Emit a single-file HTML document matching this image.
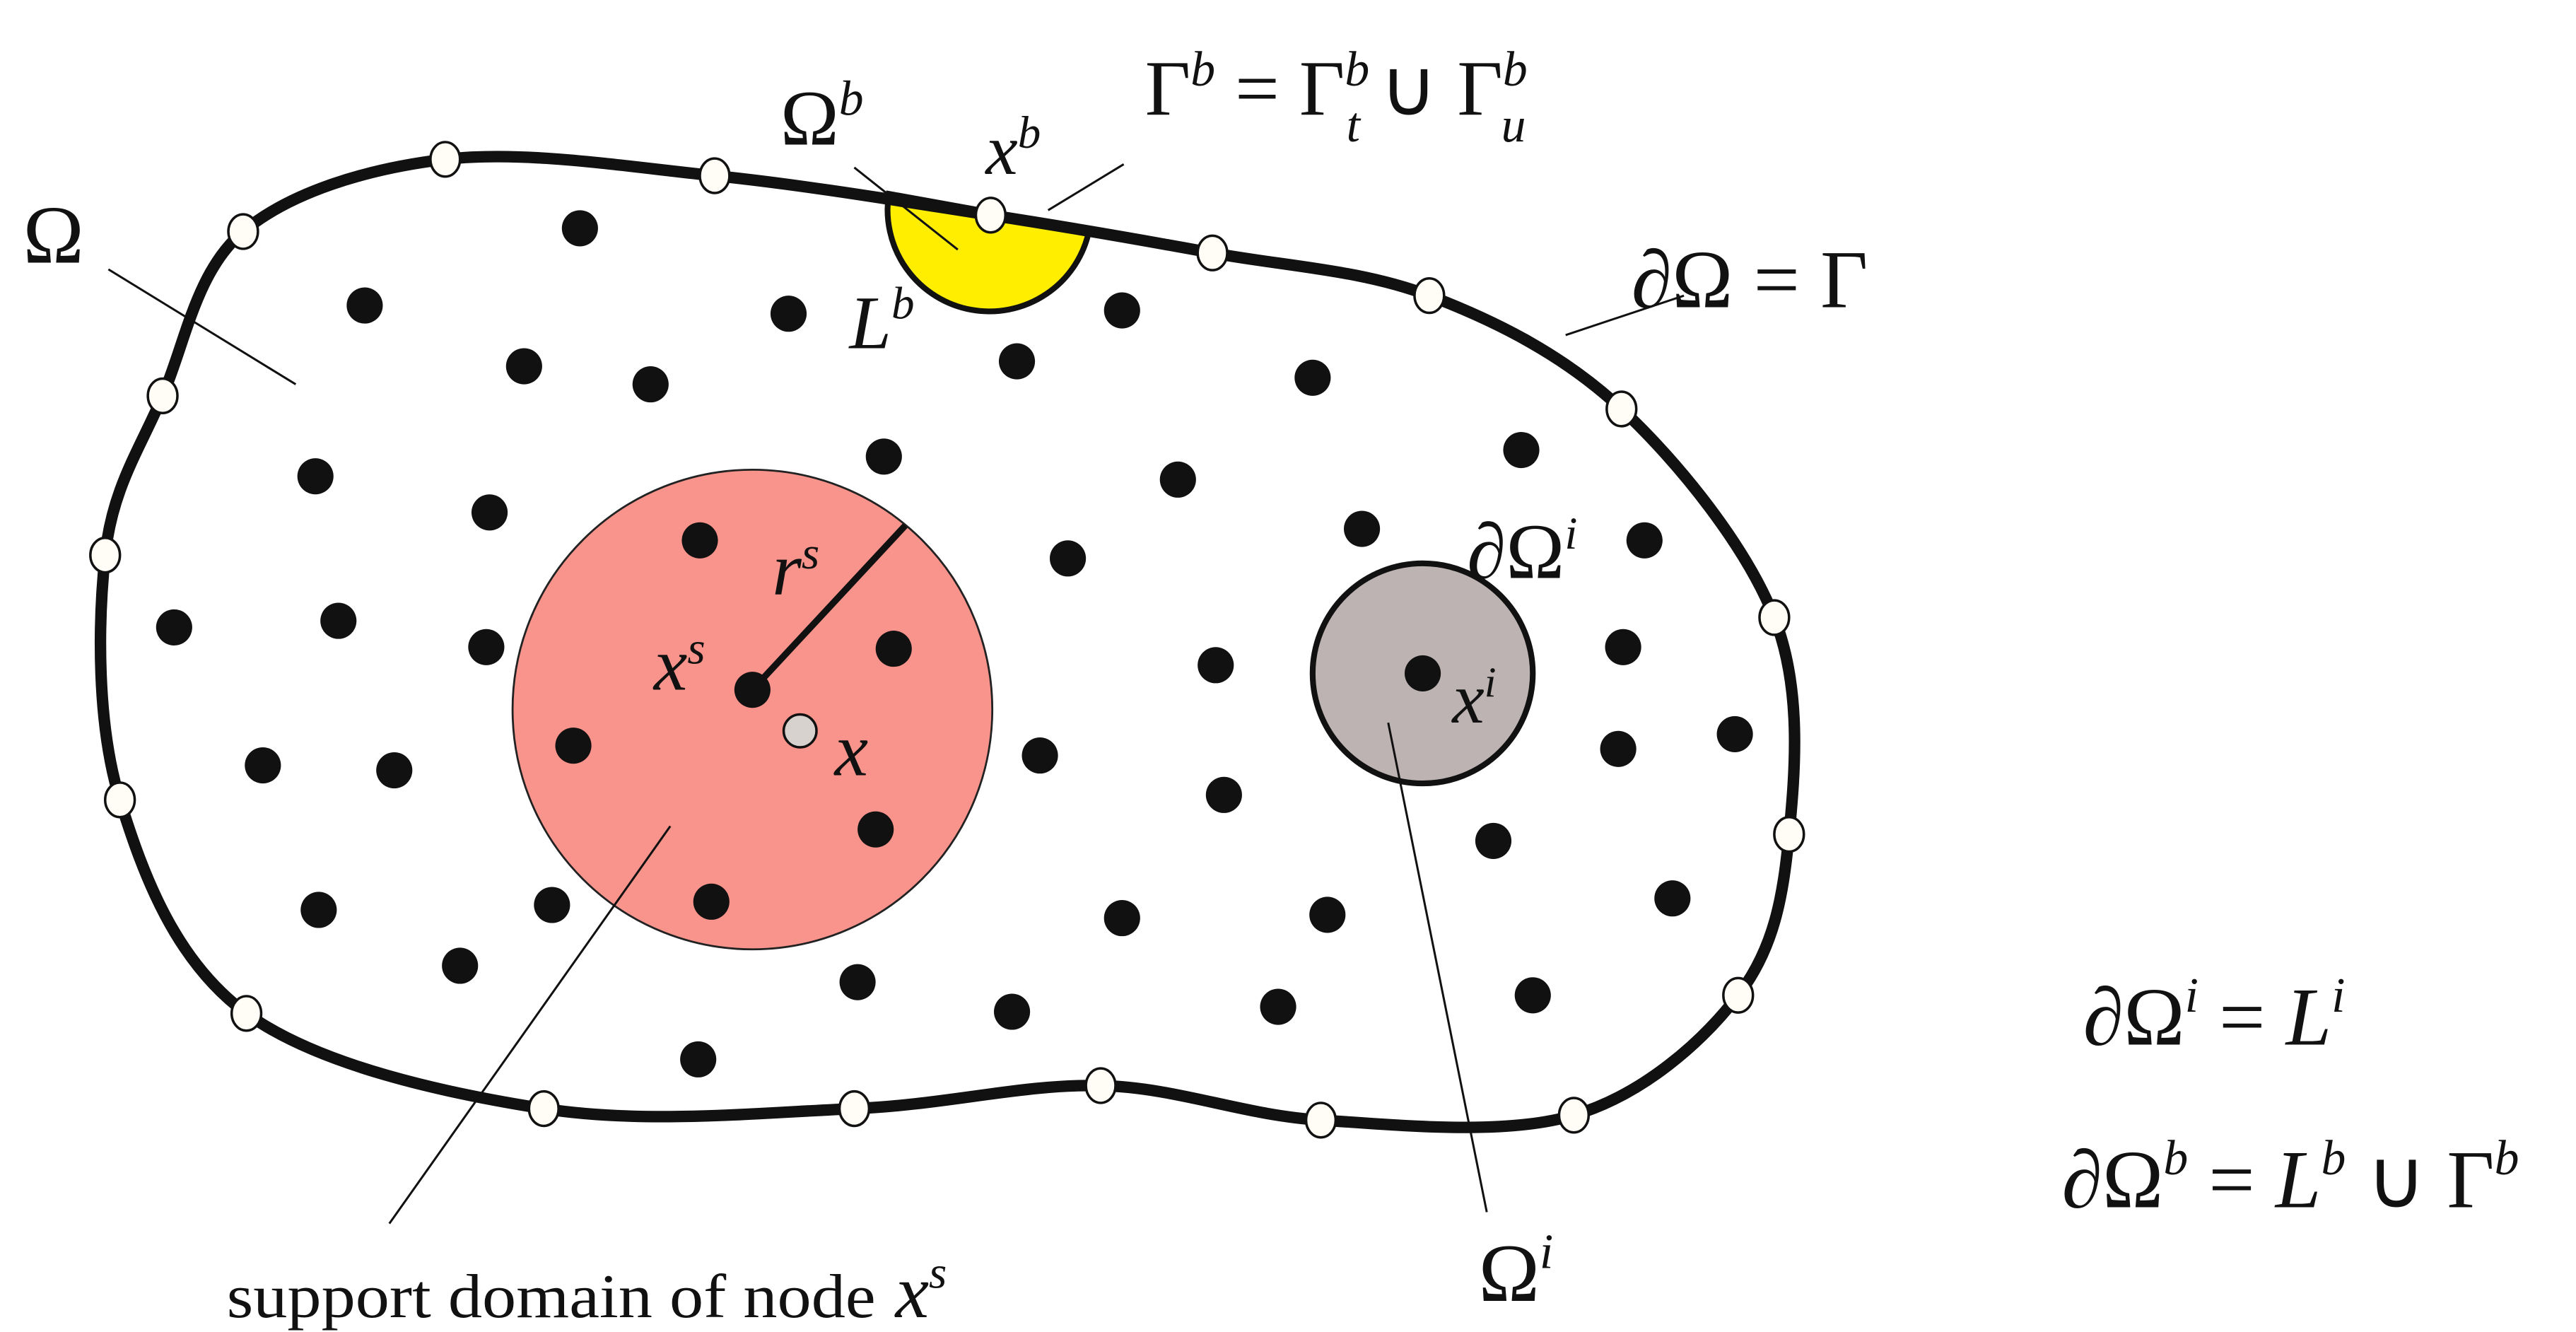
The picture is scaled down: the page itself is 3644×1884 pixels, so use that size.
<!DOCTYPE html>
<html><head><meta charset="utf-8"><style>
html,body{margin:0;padding:0;background:#fff;}
svg{display:block;}
text{font-family:"Liberation Serif",serif;fill:#111;}
.i{font-style:italic;}
</style></head><body>
<svg id="s" width="3644" height="1884" viewBox="0 0 1568 811" preserveAspectRatio="none" xmlns="http://www.w3.org/2000/svg">
<circle cx="458" cy="432" r="146" fill="#f9948c" stroke="#222" stroke-width="1.2"/>
<circle cx="866" cy="410" r="67" fill="#bdb3b2" stroke="#111" stroke-width="3.5"/>
<path d="M541,118 A62,62 0 0 0 663,140 Z" fill="#ffee00" stroke="#111" stroke-width="3.5"/>
<path id="bd" d="" fill="none" stroke="#111" stroke-width="7"/>
<g id="dots" fill="#111"></g>
<g id="open" fill="#fffdf5" stroke="#111" stroke-width="1.5"></g>
<g stroke="#111" stroke-width="1.3">
<line x1="66" y1="164" x2="180" y2="234"/>
<line x1="520" y1="102" x2="583" y2="152"/>
<line x1="684" y1="100" x2="638" y2="128"/>
<line x1="1025" y1="180" x2="953" y2="204"/>
<line x1="845" y1="440" x2="905" y2="738"/>
<line x1="408" y1="503" x2="237" y2="745"/>
</g>
<line x1="458" y1="420" x2="551" y2="320" stroke="#111" stroke-width="4"/>
<circle cx="487" cy="445" r="10" fill="#d8d2cf" stroke="#111" stroke-width="1.5"/>
<text x="14" y="160" font-size="50">Ω</text>
<text x="475" y="88" font-size="48">Ω<tspan class="i" font-size="30" dy="-18">b</tspan></text>
<text x="697" y="70" font-size="48">Γ<tspan class="i" font-size="30" dy="-18">b</tspan><tspan dy="18"> = Γ</tspan><tspan class="i" font-size="30" dy="-18">b</tspan><tspan class="i" font-size="30" dx="-14" dy="34">t</tspan><tspan dy="-16"> ∪ Γ</tspan><tspan class="i" font-size="30" dy="-18">b</tspan><tspan class="i" font-size="30" dx="-16" dy="34">u</tspan></text>
<text x="600" y="106" font-size="44" class="i">x<tspan font-size="28" dy="-16">b</tspan></text>
<text x="517" y="212" font-size="46" class="i">L<tspan font-size="28" dy="-18">b</tspan></text>
<text x="993" y="187" font-size="50">∂Ω = Γ</text>
<text x="470" y="362" font-size="46" class="i">r<tspan font-size="28" dy="-16">s</tspan></text>
<text x="398" y="420" font-size="46" class="i">x<tspan font-size="28" dy="-16">s</tspan></text>
<text x="508" y="472" font-size="46" class="i">x</text>
<text x="893" y="352" font-size="48">∂Ω<tspan class="i" font-size="28" dy="-18">i</tspan></text>
<text x="884" y="440" font-size="44" class="i">x<tspan font-size="26" dy="-16">i</tspan></text>
<text x="900" y="792" font-size="50">Ω<tspan class="i" font-size="30" dy="-20">i</tspan></text>
<text x="138" y="802" font-size="38" textLength="395" lengthAdjust="spacingAndGlyphs">support domain of node</text>
<text x="545" y="802" font-size="46" class="i">x<tspan font-size="28" dy="-18">s</tspan></text>
<text x="1268" y="636" font-size="50">∂Ω<tspan class="i" font-size="30" dy="-20">i</tspan><tspan dy="20"> = </tspan><tspan class="i">L</tspan><tspan class="i" font-size="30" dy="-20">i</tspan></text>
<text x="1255" y="735" font-size="50">∂Ω<tspan class="i" font-size="30" dy="-20">b</tspan><tspan dy="20"> = </tspan><tspan class="i">L</tspan><tspan class="i" font-size="30" dy="-20">b</tspan><tspan dy="20"> ∪ Γ</tspan><tspan class="i" font-size="30" dy="-20">b</tspan></text>
</svg>
<script>
var P=[[271,97],[435,107],[603,131],[738,154],[870,180],[987,249],[1080,376],[1089,508],[1058,606],[958,679],[804,682],[670,661],[520,675],[331,675],[150,617],[73,487],[64,338],[99,241],[148,141]];
var n=P.length,d="M"+P[0][0]+","+P[0][1];
for(var i=0;i<n;i++){var p0=P[(i-1+n)%n],p1=P[i],p2=P[(i+1)%n],p3=P[(i+2)%n];
d+=" C"+(p1[0]+(p2[0]-p0[0])/6)+","+(p1[1]+(p2[1]-p0[1])/6)+" "+(p2[0]-(p3[0]-p1[0])/6)+","+(p2[1]-(p3[1]-p1[1])/6)+" "+p2[0]+","+p2[1];}
document.getElementById("bd").setAttribute("d",d);
var ns="http://www.w3.org/2000/svg",o=document.getElementById("open");
P.forEach(function(p){var c=document.createElementNS(ns,"ellipse");c.setAttribute("cx",p[0]);c.setAttribute("cy",p[1]);c.setAttribute("rx",9);c.setAttribute("ry",10.5);o.appendChild(c);});
var D=[[353,139],[222,186],[480,191],[683,189],[319,223],[396,234],[619,220],[799,230],[926,274],[538,278],[717,292],[192,290],[298,312],[426,329],[650,340],[829,322],[1001,329],[106,382],[206,378],[296,394],[544,395],[740,405],[988,394],[458,420],[866,410],[160,466],[240,469],[349,454],[633,460],[985,456],[1056,447],[745,484],[533,505],[909,512],[194,554],[336,551],[433,549],[683,559],[808,557],[1018,547],[280,588],[522,598],[616,616],[778,613],[933,606],[425,645]];
var g=document.getElementById("dots");
D.forEach(function(p){var c=document.createElementNS(ns,"circle");c.setAttribute("cx",p[0]);c.setAttribute("cy",p[1]);c.setAttribute("r",11);g.appendChild(c);});
</script>
</body></html>
